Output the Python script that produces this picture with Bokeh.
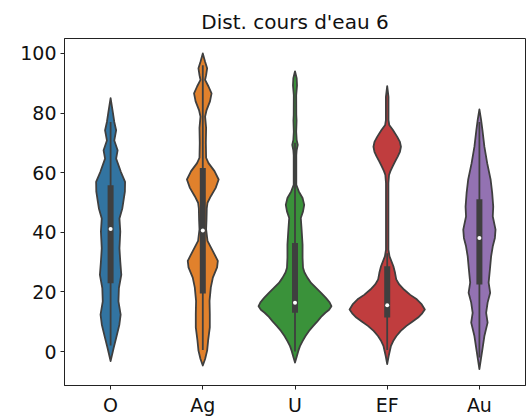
from bokeh.plotting import figure
from bokeh.models import FixedTicker, Range1d
from bokeh.embed import file_html
from bokeh.resources import INLINE

# ---- data ----
categories = ["O", "Ag", "U", "EF", "Au"]
colors = ["#3274a1", "#e1812c", "#3a923a", "#c03d3e", "#9372b2"]

# violin outlines: values (top -> bottom) and half-widths (category units)
o_y = [85, 80.3, 77, 74.2, 70.8, 67.5, 64.7, 60.2, 56.9, 53.6, 50.2, 48, 44.6, 40.2, 34.6, 30.2, 25.7, 21.3, 16.8, 12.4, 9, 4.5, 1.2, -3.2]
o_w = [0, 0.024, 0.040, 0.060, 0.040, 0.076, 0.060, 0.112, 0.157, 0.155, 0.138, 0.127, 0.096, 0.105, 0.096, 0.105, 0.116, 0.090, 0.085, 0.109, 0.095, 0.060, 0.033, 0]

ag_y = [100, 97.2, 95, 92.7, 91.1, 88.9, 86.6, 83.9, 81, 78.8, 75, 70, 65, 63.2, 60.5, 57.7, 54.9, 52.1, 49.9, 48, 44, 41, 37.1, 33.7, 30.4, 28.2, 24.8, 21.5, 17, 12.6, 8.1, 3.7, 0.3, -2.5, -4.7]
ag_w = [0, 0.025, 0.047, 0.036, 0.025, 0.062, 0.095, 0.078, 0.041, 0.025, 0.036, 0.033, 0.036, 0.062, 0.127, 0.172, 0.140, 0.087, 0.051, 0.043, 0.040, 0.036, 0.051, 0.109, 0.163, 0.155, 0.109, 0.087, 0.073, 0.076, 0.076, 0.058, 0.047, 0.025, 0]

u_y = [94, 91.7, 89.3, 86, 79.3, 77.5, 73.7, 71, 69.3, 67.5, 65.9, 55.9, 53.7, 51.5, 49.2, 47, 44.8, 40.3, 35.8, 31.4, 28.1, 26.5, 24.7, 23, 21.4, 19.7, 18, 16.5, 15.2, 14, 13, 11.6, 10.2, 8.5, 6.9, 5.2, 3.5, 1.8, 0.2, -2, -3.7]
u_w = [0, 0.018, 0.022, 0.013, 0.014, 0.017, 0.013, 0.018, 0.030, 0.018, 0.014, 0.014, 0.041, 0.082, 0.100, 0.087, 0.063, 0.073, 0.082, 0.082, 0.087, 0.103, 0.136, 0.174, 0.226, 0.283, 0.335, 0.375, 0.395, 0.370, 0.329, 0.283, 0.245, 0.196, 0.152, 0.114, 0.082, 0.054, 0.036, 0.016, 0]

ef_y = [89, 85.4, 77.6, 76, 74.3, 72, 70.3, 68.7, 67, 65.4, 63.7, 62, 60.5, 59.2, 56.5, 34.2, 31.9, 28.6, 26.4, 24.2, 22.5, 20.8, 19, 17.5, 15.8, 14.1, 12.8, 11.4, 10, 8.6, 6.9, 5.2, 3.5, 1.9, -1.5, -4.2]
ef_w = [0, 0.014, 0.014, 0.022, 0.062, 0.109, 0.138, 0.149, 0.138, 0.114, 0.085, 0.058, 0.035, 0.020, 0.013, 0.013, 0.025, 0.067, 0.085, 0.098, 0.130, 0.182, 0.250, 0.321, 0.375, 0.408, 0.380, 0.335, 0.272, 0.209, 0.147, 0.100, 0.065, 0.041, 0.016, 0]

au_y = [81.2, 77.8, 74.3, 68.7, 63.1, 57.6, 53.1, 48.6, 45.3, 40.9, 38.1, 35.3, 31.9, 27.5, 23.1, 19.7, 16.4, 13, 9.7, 5.2, 0.8, -2.6, -5.9]
au_w = [0, 0.018, 0.033, 0.054, 0.085, 0.122, 0.139, 0.150, 0.145, 0.175, 0.168, 0.145, 0.127, 0.114, 0.100, 0.117, 0.089, 0.073, 0.089, 0.054, 0.033, 0.016, 0]

violin_y = [o_y, ag_y, u_y, ef_y, au_y]
violin_w = [o_w, ag_w, u_w, ef_w, au_w]

# inner box statistics
q1 = [22.9, 19.5, 13.0, 11.4, 22.5]
median = [41.1, 40.6, 16.4, 15.5, 38.1]
q3 = [55.8, 61.6, 36.4, 28.6, 51.1]
whisk_lo = [2.0, 0.5, 0.0, 0.5, -2.0]
whisk_hi = [77.0, 96.0, 70.0, 33.0, 77.0]

title = "Dist. cours d'eau 6"
y_ticks = [0, 20, 40, 60, 80, 100]

# ---- figure ----
p = figure(width=531, height=418, output_backend="svg", toolbar_location=None,
           x_range=Range1d(-0.5, 4.5), y_range=Range1d(-11.4, 105.0),
           min_border_left=64, min_border_right=6, min_border_top=38, min_border_bottom=31)
p.title.text = title
p.title.align = "center"
p.title.text_font = "DejaVu Sans"
p.title.text_font_size = "20px"
p.title.text_font_style = "normal"
p.title.text_color = "#111111"

pos = list(range(len(categories)))
for i in pos:
    ys = violin_y[i]
    ws = violin_w[i]
    xs = [i + w for w in ws] + [i - w for w in reversed(ws)]
    yy = list(ys) + list(reversed(ys))
    p.patch(xs, yy, fill_color=colors[i], line_color="#3f3f3f", line_width=1.8, line_join="round")

p.segment(x0=pos, y0=whisk_lo, x1=pos, y1=whisk_hi, line_color="#3f3f3f", line_width=1.8)
p.segment(x0=pos, y0=q1, x1=pos, y1=q3, line_color="#3f3f3f", line_width=6, line_cap="butt")
p.scatter(x=pos, y=median, size=4, fill_color="white", line_color=None)

p.xgrid.visible = False
p.ygrid.visible = False
p.xaxis.ticker = FixedTicker(ticks=pos)
p.xaxis.major_label_overrides = {i: c for i, c in enumerate(categories)}
p.yaxis.ticker = FixedTicker(ticks=y_ticks)
for ax in (p.xaxis, p.yaxis):
    ax.minor_tick_line_color = None
    ax.major_tick_in = 0
    ax.major_tick_out = 4
    ax.axis_line_color = "#222222"
    ax.major_tick_line_color = "#222222"
    ax.major_label_text_font = "DejaVu Sans"
    ax.major_label_text_font_size = "19px"
    ax.major_label_text_color = "#111111"
    ax.major_label_standoff = 4
p.outline_line_color = "#222222"
p.outline_line_alpha = 1
p.outline_line_width = 1

open("out.html", "w").write(file_html(p, INLINE))
